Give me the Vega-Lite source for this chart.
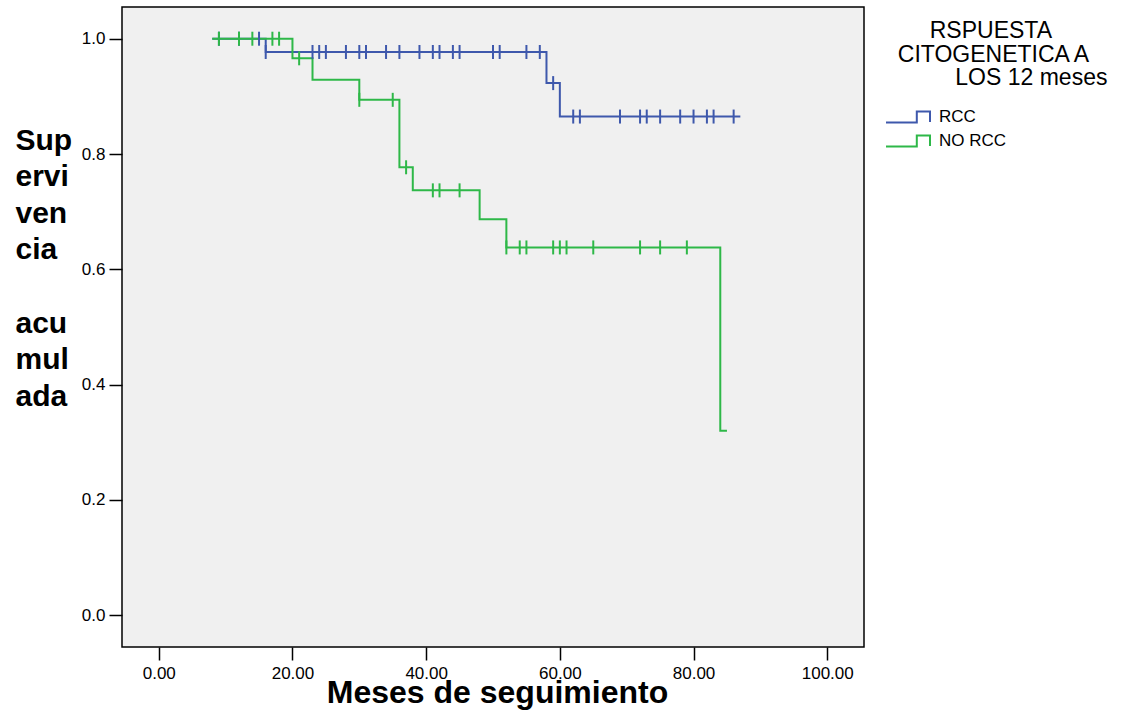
{
  "$schema": "https://vega.github.io/schema/vega-lite/v6.json",
  "width": 742,
  "height": 640,
  "autosize": {"type": "none"},
  "padding": {"left": 122, "top": 7, "right": 264, "bottom": 70},
  "background": "white",
  "config": {
    "font": "Liberation Sans",
    "view": {"stroke": "black", "strokeWidth": 1.5, "fill": "#f0f0f0"},
    "axis": {
      "domain": false,
      "grid": false,
      "tickColor": "black",
      "tickWidth": 1.5,
      "tickSize": 13,
      "labelFont": "Liberation Sans",
      "labelFontSize": 17,
      "labelColor": "black",
      "titleColor": "black",
      "titleFont": "Liberation Sans",
      "titleFontWeight": "bold",
      "labelOverlap": false,
      "labelFlush": false
    }
  },
  "datasets": {
    "curva": [
      {"meses": 8, "supervivencia": 1.0, "grupo": "RCC"},
      {"meses": 16, "supervivencia": 0.977, "grupo": "RCC"},
      {"meses": 58, "supervivencia": 0.923, "grupo": "RCC"},
      {"meses": 60, "supervivencia": 0.865, "grupo": "RCC"},
      {"meses": 87, "supervivencia": 0.865, "grupo": "RCC"},
      {"meses": 8, "supervivencia": 1.0, "grupo": "NO RCC"},
      {"meses": 20, "supervivencia": 0.966, "grupo": "NO RCC"},
      {"meses": 23, "supervivencia": 0.929, "grupo": "NO RCC"},
      {"meses": 30, "supervivencia": 0.894, "grupo": "NO RCC"},
      {"meses": 36, "supervivencia": 0.777, "grupo": "NO RCC"},
      {"meses": 38, "supervivencia": 0.737, "grupo": "NO RCC"},
      {"meses": 48, "supervivencia": 0.687, "grupo": "NO RCC"},
      {"meses": 52, "supervivencia": 0.638, "grupo": "NO RCC"},
      {"meses": 84, "supervivencia": 0.32, "grupo": "NO RCC"},
      {"meses": 85, "supervivencia": 0.32, "grupo": "NO RCC"}
    ],
    "censura": [
      {"meses": 9, "supervivencia": 1.0, "grupo": "RCC"},
      {"meses": 12, "supervivencia": 1.0, "grupo": "RCC"},
      {"meses": 15, "supervivencia": 1.0, "grupo": "RCC"},
      {"meses": 16, "supervivencia": 0.977, "grupo": "RCC"},
      {"meses": 23, "supervivencia": 0.977, "grupo": "RCC"},
      {"meses": 24, "supervivencia": 0.977, "grupo": "RCC"},
      {"meses": 25, "supervivencia": 0.977, "grupo": "RCC"},
      {"meses": 28, "supervivencia": 0.977, "grupo": "RCC"},
      {"meses": 30, "supervivencia": 0.977, "grupo": "RCC"},
      {"meses": 31, "supervivencia": 0.977, "grupo": "RCC"},
      {"meses": 34, "supervivencia": 0.977, "grupo": "RCC"},
      {"meses": 36, "supervivencia": 0.977, "grupo": "RCC"},
      {"meses": 39, "supervivencia": 0.977, "grupo": "RCC"},
      {"meses": 41, "supervivencia": 0.977, "grupo": "RCC"},
      {"meses": 42, "supervivencia": 0.977, "grupo": "RCC"},
      {"meses": 44, "supervivencia": 0.977, "grupo": "RCC"},
      {"meses": 45, "supervivencia": 0.977, "grupo": "RCC"},
      {"meses": 50, "supervivencia": 0.977, "grupo": "RCC"},
      {"meses": 51, "supervivencia": 0.977, "grupo": "RCC"},
      {"meses": 55, "supervivencia": 0.977, "grupo": "RCC"},
      {"meses": 57, "supervivencia": 0.977, "grupo": "RCC"},
      {"meses": 59, "supervivencia": 0.923, "grupo": "RCC"},
      {"meses": 62, "supervivencia": 0.865, "grupo": "RCC"},
      {"meses": 63, "supervivencia": 0.865, "grupo": "RCC"},
      {"meses": 69, "supervivencia": 0.865, "grupo": "RCC"},
      {"meses": 72, "supervivencia": 0.865, "grupo": "RCC"},
      {"meses": 73, "supervivencia": 0.865, "grupo": "RCC"},
      {"meses": 75, "supervivencia": 0.865, "grupo": "RCC"},
      {"meses": 78, "supervivencia": 0.865, "grupo": "RCC"},
      {"meses": 80, "supervivencia": 0.865, "grupo": "RCC"},
      {"meses": 82, "supervivencia": 0.865, "grupo": "RCC"},
      {"meses": 83, "supervivencia": 0.865, "grupo": "RCC"},
      {"meses": 86, "supervivencia": 0.865, "grupo": "RCC"},
      {"meses": 9, "supervivencia": 1.0, "grupo": "NO RCC"},
      {"meses": 12, "supervivencia": 1.0, "grupo": "NO RCC"},
      {"meses": 14, "supervivencia": 1.0, "grupo": "NO RCC"},
      {"meses": 17, "supervivencia": 1.0, "grupo": "NO RCC"},
      {"meses": 18, "supervivencia": 1.0, "grupo": "NO RCC"},
      {"meses": 21, "supervivencia": 0.966, "grupo": "NO RCC"},
      {"meses": 30, "supervivencia": 0.894, "grupo": "NO RCC"},
      {"meses": 35, "supervivencia": 0.894, "grupo": "NO RCC"},
      {"meses": 37, "supervivencia": 0.777, "grupo": "NO RCC"},
      {"meses": 41, "supervivencia": 0.737, "grupo": "NO RCC"},
      {"meses": 42, "supervivencia": 0.737, "grupo": "NO RCC"},
      {"meses": 45, "supervivencia": 0.737, "grupo": "NO RCC"},
      {"meses": 52, "supervivencia": 0.638, "grupo": "NO RCC"},
      {"meses": 54, "supervivencia": 0.638, "grupo": "NO RCC"},
      {"meses": 55, "supervivencia": 0.638, "grupo": "NO RCC"},
      {"meses": 59, "supervivencia": 0.638, "grupo": "NO RCC"},
      {"meses": 60, "supervivencia": 0.638, "grupo": "NO RCC"},
      {"meses": 61, "supervivencia": 0.638, "grupo": "NO RCC"},
      {"meses": 65, "supervivencia": 0.638, "grupo": "NO RCC"},
      {"meses": 72, "supervivencia": 0.638, "grupo": "NO RCC"},
      {"meses": 75, "supervivencia": 0.638, "grupo": "NO RCC"},
      {"meses": 79, "supervivencia": 0.638, "grupo": "NO RCC"}
    ]
  },
  "encoding": {
    "x": {
      "field": "meses",
      "type": "quantitative",
      "scale": {"domain": [-5.5, 105.5], "nice": false, "zero": false},
      "axis": {
        "values": [0, 20, 40, 60, 80, 100],
        "format": ".2f",
        "labelPadding": 5,
        "title": "Meses de seguimiento",
        "titleFontSize": 32,
        "titleX": 375,
        "titleY": 55,
        "titleBaseline": "alphabetic",
        "titleAlign": "center"
      }
    },
    "y": {
      "field": "supervivencia",
      "type": "quantitative",
      "scale": {"domain": [-0.055, 1.055], "nice": false, "zero": false},
      "axis": {
        "values": [0, 0.2, 0.4, 0.6, 0.8, 1.0],
        "format": ".1f",
        "labelPadding": 4,
        "title": ["Sup", "ervi", "ven", "cia", "\u200b", "acu", "mul", "ada"],
        "titleAngle": 0,
        "titleAlign": "left",
        "titleBaseline": "alphabetic",
        "titleX": -107,
        "titleY": 142,
        "titleFontSize": 30,
        "titleLineHeight": 36.6
      }
    }
  },
  "layer": [
    {
      "data": {"name": "curva"},
      "mark": {"type": "line", "interpolate": "step-after", "strokeWidth": 2},
      "encoding": {
        "color": {
          "field": "grupo",
          "type": "nominal",
          "scale": {"domain": ["RCC", "NO RCC"], "range": ["#3e58ac", "#2eb848"]},
          "legend": {
            "orient": "none",
            "legendX": 763,
            "legendY": 13,
            "title": ["\u200b\u00a0\u00a0\u00a0\u00a0\u00a0\u00a0\u00a0RSPUESTA", "\u200b\u00a0\u00a0CITOGENETICA A", "\u200b\u00a0\u00a0\u00a0\u00a0\u00a0\u00a0\u00a0\u00a0\u00a0\u00a0\u00a0LOS 12 meses"],
            "titleFontSize": 23,
            "titleFontWeight": "normal",
            "titleColor": "black",
            "titleAlign": "left",
            "titleLineHeight": 23.5,
            "titleLimit": 400,
            "titlePadding": 15,
            "labelFontSize": 17,
            "labelColor": "black",
            "symbolType": "M-1,0.5L1.8,0.5L1.8,-0.5L3,-0.5L3,0.45L3,-0.5L1.8,-0.5L1.8,0.5L-1,0.5",
            "symbolSize": 484,
            "symbolStrokeWidth": 2,
            "symbolOpacity": 1,
            "symbolFillColor": "transparent",
            "labelOffset": 30,
            "rowPadding": 2,
            "encode": {
              "symbols": {
                "update": {
                  "fill": {"value": "transparent"}
                }
              }
            }
          }
        }
      }
    },
    {
      "data": {"name": "censura"},
      "mark": {"type": "tick", "orient": "vertical", "size": 14, "thickness": 2, "opacity": 1},
      "encoding": {
        "color": {"field": "grupo", "type": "nominal", "legend": null}
      }
    }
  ]
}
